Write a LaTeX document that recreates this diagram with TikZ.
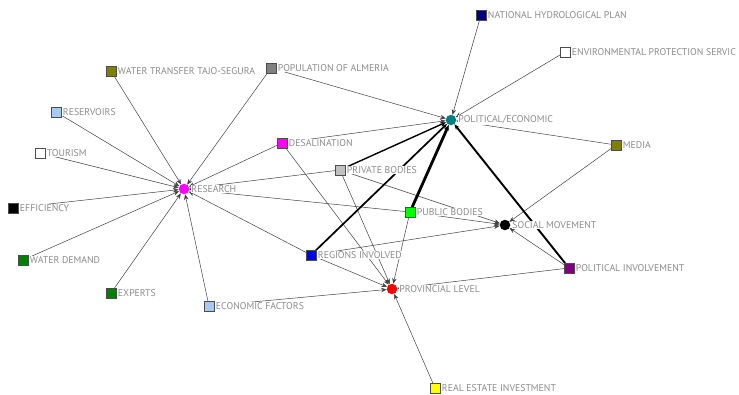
\documentclass[tikz,border=0pt]{standalone}
\usepackage{fontspec}
\setmainfont{PT Sans}
\usetikzlibrary{arrows.meta,backgrounds}

\definecolor{navyc}{RGB}{0,0,128}
\definecolor{olivec}{RGB}{128,128,0}
\definecolor{tealc}{RGB}{0,128,128}
\definecolor{skyc}{RGB}{166,202,240}
\definecolor{silverc}{RGB}{192,192,192}
\definecolor{darkgreenc}{RGB}{0,128,0}
\definecolor{purplec}{RGB}{128,0,128}
\definecolor{magentac}{RGB}{255,0,255}
\definecolor{limec}{RGB}{0,255,0}
\definecolor{bluec}{RGB}{0,0,255}
\definecolor{redc}{RGB}{255,0,0}
\definecolor{yellowc}{RGB}{255,255,0}
\definecolor{grayc}{RGB}{128,128,128}

\begin{document}
\begin{tikzpicture}[x=1pt, y=-1pt, >={Stealth[length=5.5pt,width=4.5pt]},
    sq/.style={draw=black!70, line width=0.4pt, minimum size=9.5pt, inner sep=0pt},
    hub/.style={circle, minimum size=10.5pt, inner sep=0pt},
    lbl/.style={anchor=west, fill=white, inner sep=0.8pt, text=black!45,
        font=\fontsize{9.8}{10}\selectfont},
    tie/.style={->, draw=black!75, line width=0.5pt},
    bond/.style={->, draw=black, line width=#1}]
    \useasboundingbox (0,0) rectangle (739,394);

    % actors
    \node[sq, fill=navyc] (nhp) at (481,15) {};
    \node[sq, fill=white] (env) at (565,52) {};
    \node[sq, fill=olivec] (transfer) at (111,71) {};
    \node[sq, fill=grayc] (pop) at (271,68) {};
    \node[sq, fill=skyc] (reserv) at (56,112) {};
    \node[hub, fill=tealc] (pol) at (451,120) {};
    \node[sq, fill=magentac] (desal) at (282,143) {};
    \node[sq, fill=olivec] (media) at (616,145) {};
    \node[sq, fill=white] (tour) at (40,153) {};
    \node[sq, fill=silverc] (priv) at (340,170) {};
    \node[hub, fill=magentac] (research) at (184,189) {};
    \node[sq, fill=black] (eff) at (13,208) {};
    \node[sq, fill=limec] (pub) at (410,212) {};
    \node[hub, fill=black] (social) at (505,225) {};
    \node[sq, fill=bluec] (regions) at (311,255) {};
    \node[sq, fill=darkgreenc] (demand) at (23,260) {};
    \node[sq, fill=purplec] (polinv) at (569,268) {};
    \node[hub, fill=redc] (prov) at (392,289) {};
    \node[sq, fill=darkgreenc] (experts) at (111,293) {};
    \node[sq, fill=skyc] (econ) at (209,306) {};
    \node[sq, fill=yellowc] (estate) at (435,388) {};

    % ties
    \begin{scope}[on background layer]
        \foreach \src in {transfer, pop, reserv, tour, eff, demand, experts, econ,
                desal, priv, pub, regions}
            \draw[tie] (\src) -- (research);
        \foreach \src in {nhp, env, pop, desal, media}
            \draw[tie] (\src) -- (pol);
        \foreach \src in {priv, pub, regions, polinv, media}
            \draw[tie] (\src) -- (social);
        \foreach \src in {desal, priv, pub, regions, econ, estate, polinv}
            \draw[tie] (\src) -- (prov);
        \draw[bond=1.4pt] (priv) -- (pol);
        \draw[bond=1.7pt] (regions) -- (pol);
        \draw[bond=2.8pt] (pub) -- (pol);
        \draw[bond=1.9pt] (polinv) -- (pol);
    \end{scope}

    % labels
    \node[lbl] (nhp-l) at ([xshift=1pt]nhp.east) {NATIONAL HYDROLOGICAL PLAN};
    \node[lbl] (env-l) at ([xshift=1pt]env.east) {ENVIRONMENTAL PROTECTION SERVIC};
    \node[lbl] (transfer-l) at ([xshift=1pt]transfer.east) {WATER TRANSFER TAJO-SEGURA};
    \node[lbl] (pop-l) at ([xshift=1pt]pop.east) {POPULATION OF ALMERIA};
    \node[lbl] (reserv-l) at ([xshift=1pt]reserv.east) {RESERVOIRS};
    \node[lbl] (pol-l) at ([xshift=1pt]pol.east) {POLITICAL/ECONOMIC};
    \node[lbl] (desal-l) at ([xshift=1pt]desal.east) {DESALINATION};
    \node[lbl] (media-l) at ([xshift=1pt]media.east) {MEDIA};
    \node[lbl] (tour-l) at ([xshift=1pt]tour.east) {TOURISM};
    \node[lbl] (priv-l) at ([xshift=1pt]priv.east) {PRIVATE BODIES};
    \node[lbl] (research-l) at ([xshift=1pt]research.east) {RESEARCH};
    \node[lbl] (eff-l) at ([xshift=1pt]eff.east) {EFFICIENCY};
    \node[lbl] (pub-l) at ([xshift=1pt]pub.east) {PUBLIC BODIES};
    \node[lbl] (social-l) at ([xshift=1pt]social.east) {SOCIAL MOVEMENT};
    \node[lbl] (regions-l) at ([xshift=1pt]regions.east) {REGIONS INVOLVED};
    \node[lbl] (demand-l) at ([xshift=1pt]demand.east) {WATER DEMAND};
    \node[lbl] (polinv-l) at ([xshift=1pt]polinv.east) {POLITICAL INVOLVEMENT};
    \node[lbl] (prov-l) at ([xshift=1pt]prov.east) {PROVINCIAL LEVEL};
    \node[lbl] (experts-l) at ([xshift=1pt]experts.east) {EXPERTS};
    \node[lbl] (econ-l) at ([xshift=1pt]econ.east) {ECONOMIC FACTORS};
    \node[lbl] (estate-l) at ([xshift=1pt]estate.east) {REAL ESTATE INVESTMENT};
\end{tikzpicture}
\end{document}
